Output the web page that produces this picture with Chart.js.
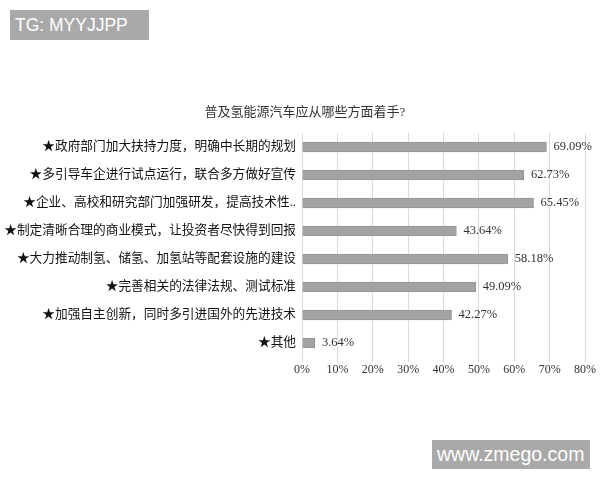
<!DOCTYPE html>
<html>
<head>
<meta charset="utf-8">
<script src="https://cdn.jsdelivr.net/npm/chart.js@4"></script>
<style>
  body { margin: 0; background: #fff; }
  #wrap { position: relative; width: 600px; height: 480px; }
  .mark { position: absolute; background: #a9a9a9; color: #fff; font: 17px 'Liberation Sans', Arial, sans-serif; line-height: 30px; padding-left: 5px; }
</style>
</head>
<body>
<div id="wrap">
  <canvas id="myChart" width="600" height="480"></canvas>
  <div class="mark" style="left:10px;top:10px;width:134px;height:30px;font-size:17.5px;">TG: MYYJJPP</div>
  <div class="mark" style="left:432px;top:440px;width:153px;height:29px;line-height:29px;font-size:19.5px;">www.zmego.com</div>
</div>
<script>
const titleText = '普及氢能源汽车应从哪些方面着手?'
const labels = [
  '★政府部门加大扶持力度，明确中长期的规划',
  '★多引导车企进行试点运行，联合多方做好宣传',
  '★企业、高校和研究部门加强研发，提高技术性..',
  '★制定清晰合理的商业模式，让投资者尽快得到回报',
  '★大力推动制氢、储氢、加氢站等配套设施的建设',
  '★完善相关的法律法规、测试标准',
  '★加强自主创新，同时多引进国外的先进技术',
  '★其他'
]
const values = [69.09, 62.73, 65.45, 43.64, 58.18, 49.09, 42.27, 3.64]

const fontFam = "'Liberation Serif', 'Noto Sans CJK SC', serif"

// title drawn a bit right of canvas centre, like the original
const chartTitle = {
  id: 'chartTitle',
  afterDraw(chart) {
    const ctx = chart.ctx
    ctx.save()
    ctx.font = '13px ' + fontFam
    ctx.fillStyle = '#333'
    ctx.textAlign = 'center'
    ctx.textBaseline = 'middle'
    ctx.fillText(titleText, 305, 113)
    ctx.restore()
  }
}

const valueLabels = {
  id: 'valueLabels',
  afterDatasetsDraw(chart) {
    const ctx = chart.ctx
    const meta = chart.getDatasetMeta(0)
    ctx.save()
    ctx.font = '12.5px ' + fontFam
    ctx.fillStyle = '#333'
    ctx.textBaseline = 'middle'
    meta.data.forEach((bar, i) => {
      ctx.fillText(values[i].toFixed(2) + '%', bar.x + 7, bar.y)
    })
    ctx.restore()
  }
}

new Chart(document.getElementById('myChart'), {
  type: 'bar',
  data: {
    labels: labels,
    datasets: [{
      data: values,
      backgroundColor: '#a3a3a3',
      borderColor: '#949494',
      borderWidth: 1,
      barThickness: 10
    }]
  },
  plugins: [valueLabels, chartTitle],
  options: {
    indexAxis: 'y',
    responsive: false,
    animation: false,
    layout: { padding: { left: 0, right: 15, top: 133, bottom: 98 } },
    plugins: {
      legend: { display: false },
      tooltip: { enabled: false },
      title: { display: false }
    },
    scales: {
      x: {
        min: 0,
        max: 80,
        ticks: {
          stepSize: 10,
          color: '#333',
          font: { family: fontFam, size: 12 },
          padding: 1,
          callback: v => v + '%'
        },
        grid: { color: '#d9d9d9', tickLength: 5 },
        border: { display: false },
        afterFit: s => { s.height = 25 }
      },
      y: {
        ticks: {
          color: '#111',
          font: { family: fontFam, size: 12.7 },
          padding: -2
        },
        grid: { display: false },
        border: { display: false },
        afterFit: s => { s.width = 302 }
      }
    }
  }
})
</script>
</body>
</html>
